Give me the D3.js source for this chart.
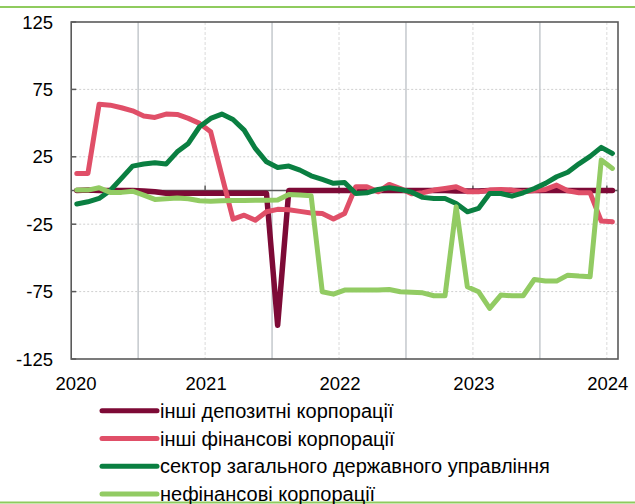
<!DOCTYPE html>
<html>
<head>
<meta charset="utf-8">
<script src="https://cdn.jsdelivr.net/npm/d3@7"></script>
<style>
  html, body { margin: 0; padding: 0; background: #fff; }
  svg { display: block; }
  text { font-family: "Liberation Sans", Arial, sans-serif; fill: #000; }
</style>
</head>
<body>
<svg id="chart" width="635" height="504"></svg>
<script>
// ---- Data ----
const months = d3.timeMonth.range(new Date(2020, 0, 1), new Date(2024, 1, 1)).map(d3.timeFormat("%Y-%m"));
const yearLabels = ["2020", "2021", "2022", "2023", "2024"];
const yTicks = [125, 75, 25, -25, -75, -125];
const seriesNames = [
  "інші депозитні корпорації",
  "інші фінансові корпорації",
  "сектор загального державного управління",
  "нефінансові корпорації"
];
const otherDepository = [
  0, 0.3, 0, 0, 0, 0, -0.3, -1, -2, -2,
  -2, -2, -2, -2, -2, -2, -2, -2, -100, 0,
  0, 0, 0, 0, 0, 0, 0, 0, 0, 0,
  0, 0, 0, 0, -0.3, -0.3, -0.3, 0, 0, 0,
  0, 0, 0, 0, 0, 0, 0, 0, 0
];
const otherFinancial = [
  12.7, 12.7, 64, 63.3, 61.4, 59.1, 55.2, 54.2, 56.7, 56.4,
  53.5, 49.8, 43.5, 11, -21.2, -18.3, -22, -15.8, -14, -14.3,
  -15.5, -16.7, -17, -21.2, -17, 2.8, 2.8, -1, 4.5, 1.5,
  -2.5, -1.7, 0.3, 1.5, 2.8, -1, -1, 0.3, 0.8, 0.3,
  -1, 0, 0.8, 4, -0.2, -1.7, -1.7, -22.7, -23.2
];
const generalGov = [
  -10, -8.4, -5.9, 0, 9, 18.1, 19.6, 20.6, 19.6, 28.7,
  34.9, 47.3, 53.5, 56.7, 52.7, 44.8, 31.2, 21.3, 17.1, 18.1,
  15.1, 10.9, 8.2, 5.3, 6, -2.2, -1.7, 0.8, 2, 0.8,
  -1.2, -5.1, -5.9, -5.9, -9.6, -15.8, -13.3, -2.2, -2.2, -4.2,
  -1.7, 1.5, 5.3, 10.2, 13.5, 19.8, 25.3, 32, 27.5
];
const nonFinancial = [
  0.3, 0.3, 2, -1.4, -1.4, -0.5, -3.4, -6.6, -6.1, -5.6,
  -6.1, -7.6, -7.9, -7.6, -7.5, -7.4, -7.3, -7.2, -7.1, -2.9,
  -3.4, -3.9, -75.1, -76.9, -73.9, -73.9, -73.9, -73.9, -73.4, -75.1,
  -75.5, -75.9, -78.1, -78.1, -12.1, -71.4, -75.1, -87.5, -77.6, -78.1,
  -78.1, -66, -67.2, -67.2, -62.8, -63.5, -64, 22.6, 16.4
];
const seriesValues = [otherDepository, otherFinancial, generalGov, nonFinancial];
const seriesColors = ["#7d0a36", "#e04f68", "#0a7f41", "#92cb63"];
const seriesWidths = [5.5, 5, 5, 5];

// ---- Layout ----
const W = 635, H = 504;
const plot = { left: 71.2, right: 618, top: 22, bottom: 359 };
const svg = d3.select("#chart");

// band-style month positions: index i centered at i+0.5
const x = d3.scaleLinear().domain([0, months.length]).range([plot.left, plot.right]);
const y = d3.scaleLinear().domain([-125, 125]).range([plot.bottom, plot.top]);

// top & bottom decorative lines
svg.append("line").attr("x1", 0).attr("x2", W).attr("y1", 7).attr("y2", 7)
  .attr("stroke", "#8fcb5e").attr("stroke-width", 2);
svg.append("line").attr("x1", 0).attr("x2", W).attr("y1", 502.5).attr("y2", 502.5)
  .attr("stroke", "#8fcb5e").attr("stroke-width", 2);

const g = svg.append("g");

// horizontal gridlines
g.selectAll(".hgrid").data(yTicks.filter(t => Math.abs(t) !== 125)).join("line")
  .attr("x1", plot.left).attr("x2", plot.right)
  .attr("y1", d => y(d)).attr("y2", d => y(d))
  .attr("stroke", "#cfcfcf").attr("stroke-width", 1).attr("stroke-dasharray", "2,2");

// vertical gridlines: mid-year solid, year boundaries dashed
const yearIdx = yearLabels.map((_, k) => k * 12);
const midIdx = [6, 18, 30, 42];
g.selectAll(".vmid").data(midIdx).join("line")
  .attr("x1", d => x(d)).attr("x2", d => x(d))
  .attr("y1", plot.top).attr("y2", plot.bottom)
  .attr("stroke", "#c8ccd0").attr("stroke-width", 1.6);
g.selectAll(".vyear").data(yearIdx.slice(1)).join("line")
  .attr("x1", d => x(d)).attr("x2", d => x(d))
  .attr("y1", plot.top).attr("y2", plot.bottom)
  .attr("stroke", "#dadada").attr("stroke-width", 1).attr("stroke-dasharray", "3,2");

// zero axis line with ticks
g.append("line").attr("x1", plot.left).attr("x2", plot.right)
  .attr("y1", y(0)).attr("y2", y(0)).attr("stroke", "#5a5a5a").attr("stroke-width", 1.5);
g.selectAll(".xtick").data(yearIdx.slice(1)).join("line")
  .attr("x1", d => x(d)).attr("x2", d => x(d))
  .attr("y1", y(0) - 5).attr("y2", y(0) + 3)
  .attr("stroke", "#5a5a5a").attr("stroke-width", 1.5);

// y ticks (inside)
g.selectAll(".ytick").data(yTicks).join("line")
  .attr("x1", plot.left).attr("x2", plot.left + 5)
  .attr("y1", d => y(d)).attr("y2", d => y(d))
  .attr("stroke", "#5a5a5a").attr("stroke-width", 1.5);

// frame
g.append("rect").attr("x", plot.left).attr("y", plot.top)
  .attr("width", plot.right - plot.left).attr("height", plot.bottom - plot.top)
  .attr("fill", "none").attr("stroke", "#5a5a5a").attr("stroke-width", 1.6);

// y labels
svg.selectAll(".ylab").data(yTicks).join("text")
  .attr("x", 53).attr("y", d => y(d)).attr("dy", "0.36em")
  .attr("text-anchor", "end").style("font-size", "18.5px")
  .text(d => d);

// x labels
svg.selectAll(".xlab").data(yearLabels).join("text")
  .attr("x", (d, k) => Math.max(x(k * 12) + 1, 76))
  .attr("y", 390)
  .attr("text-anchor", "middle").style("font-size", "18.5px")
  .text(d => d);

// series lines
const line = d3.line().x((d, i) => x(i + 0.5)).y(d => y(d)).curve(d3.curveLinear);
seriesValues.forEach((vals, s) => {
  g.append("path").datum(vals)
    .attr("d", line)
    .attr("fill", "none")
    .attr("stroke", seriesColors[s])
    .attr("stroke-width", seriesWidths[s])
    .attr("stroke-linejoin", "round")
    .attr("stroke-linecap", "round");
});

// legend
const legY = [410.7, 438.4, 466.2, 494];
const leg = svg.append("g");
seriesNames.forEach((name, s) => {
  leg.append("line").attr("x1", 102).attr("x2", 157)
    .attr("y1", legY[s]).attr("y2", legY[s])
    .attr("stroke", seriesColors[s]).attr("stroke-width", 5).attr("stroke-linecap", "round");
  leg.append("text").attr("x", 160).attr("y", legY[s]).attr("dy", "0.36em")
    .style("font-size", "20px").text(name);
});
</script>
</body>
</html>
